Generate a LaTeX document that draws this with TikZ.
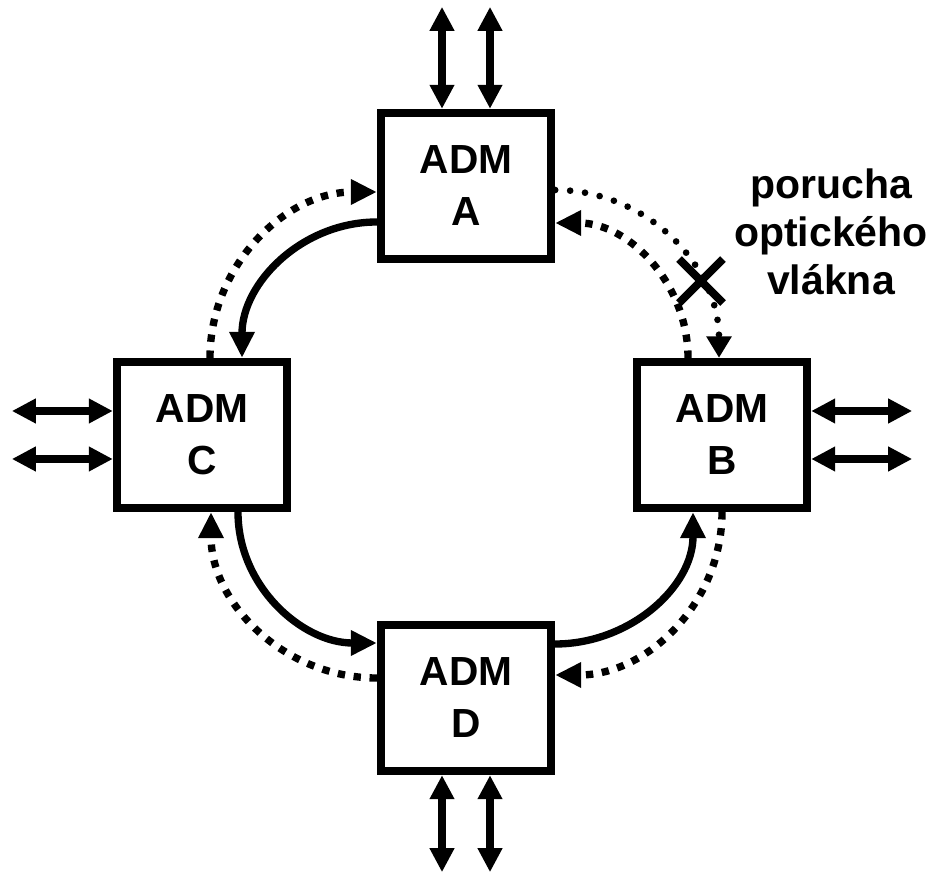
\documentclass[tikz,border=0pt]{standalone}
\usepackage{fontspec}
\setmainfont{Liberation Sans}
\usetikzlibrary{arrows.meta,calc,shapes.misc}

\tikzset{every picture/.style={line width=5.5pt}}

\begin{document}
\begin{tikzpicture}[x=0.75pt,y=0.75pt,
  admbox/.style={draw, line width=6.25pt, minimum width=127.5pt, minimum height=109.5pt, inner sep=0pt, align=center, font=\fontsize{30.5}{39}\selectfont\bfseries},
  ring/.style={line width=5.5pt, -{Triangle[length=19.5pt,width=18pt]}},
  protect/.style={ring, dash pattern=on 5.5pt off 6.5pt},
  fiber/.style={line width=5pt, line cap=round, dash pattern=on 0pt off 11.25pt, -{Triangle[length=16pt,width=18pt]}},
  io/.style={line width=5.5pt, {Triangle[length=18pt,width=17.5pt]}-{Triangle[length=18pt,width=17.5pt]}},
  breakmark/.style={draw, solid, line cap=butt, cross out, line width=6pt, minimum size=27pt, inner sep=0pt}]
\useasboundingbox (0,0) rectangle (937,874);

% ADM nodes
\node[admbox] (admA) at (466,688) {ADM\\A};
\node[admbox] (admB) at (722,439) {ADM\\B};
\node[admbox] (admC) at (202,439) {ADM\\C};
\node[admbox] (admD) at (466,176) {ADM\\D};

% fault label
\node[anchor=north, inner sep=0pt, align=center, font=\fontsize{30.75}{36}\selectfont\bfseries] (fault) at (831,709) {porucha\\optického\\vlákna};

% tributary ports
\foreach \s/\d in {1/-24,2/24}{
  \coordinate (topA\s) at ($(admA.north)+(\d,102)$);
  \draw[io] (topA\s) -- (topA\s |- admA.north);
  \coordinate (botD\s) at ($(admD.south)+(\d,-97)$);
  \draw[io] (botD\s) -- (botD\s |- admD.south);
  \coordinate (lftC\s) at ($(admC.west)+(-101,\d)$);
  \draw[io] (lftC\s) -- (lftC\s -| admC.west);
  \coordinate (rgtB\s) at ($(admB.east)+(101,\d)$);
  \draw[io] (rgtB\s) -- (rgtB\s -| admB.east);
}

% working ring
\draw[ring] ($(admA.west)+(0,-36)$) to[out=180,in=90] ($(admC.north)+(40,0)$);
\draw[ring] ($(admC.south)+(36,0)$) to[out=-90,in=180] ($(admD.west)+(0,55)$);
\draw[ring] ($(admD.east)+(0,54)$) to[out=0,in=-90] ($(admB.south)+(-29,0)$);

% protection ring
\draw[protect] ($(admC.north)+(8,0)$) to[out=90,in=180] ($(admA.west)+(0,-6)$);
\draw[protect] ($(admD.west)+(0,20)$) to[out=180,in=-90] ($(admC.south)+(9,0)$);
\draw[protect] (admB.south) to[out=-90,in=0] ($(admD.east)+(0,23)$);
\draw[protect] ($(admB.north)+(-34,0)$) to[out=90,in=0] ($(admA.east)+(0,-37)$);

% broken fibre
\draw[fiber] ($(admA.east)+(0,-4)$) to[out=0,in=90] node[breakmark,pos=0.7] (cut) {} ($(admB.north)+(-3,0)$);

\end{tikzpicture}
\end{document}
